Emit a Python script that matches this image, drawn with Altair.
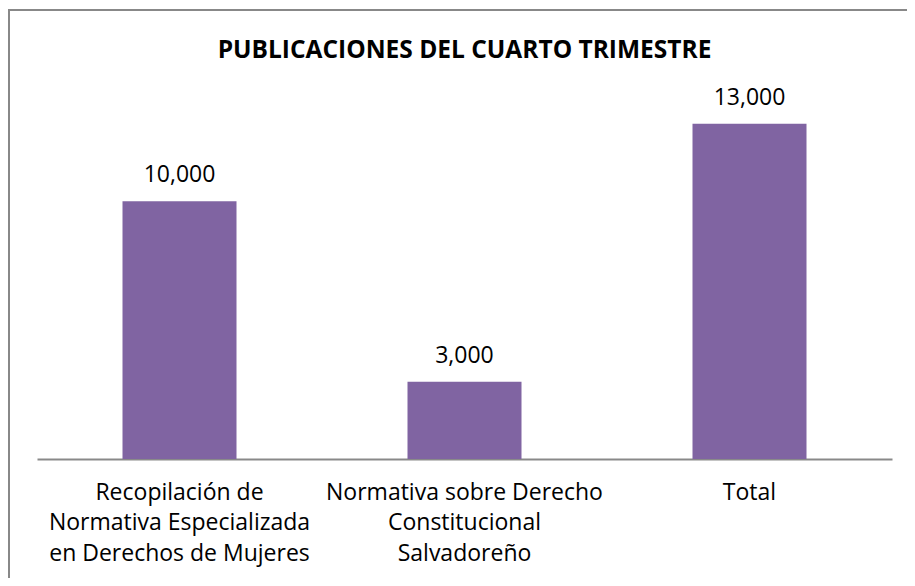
import altair as alt
import pandas as pd

categories = [
    "Recopilación de\nNormativa Especializada\nen Derechos de Mujeres",
    "Normativa sobre Derecho\nConstitucional\nSalvadoreño",
    "Total",
]
values = [10000, 3000, 13000]
title_text = "PUBLICACIONES DEL CUARTO TRIMESTRE"

df = pd.DataFrame({"cat": categories, "val": values})
one_df = pd.DataFrame({"t": [title_text]})

FONT = "Open Sans"

x_enc = alt.X(
    "cat:N",
    sort=None,
    title=None,
    scale=alt.Scale(paddingInner=0.6, paddingOuter=0.3),
    axis=alt.Axis(
        labelAngle=0,
        labelExpr="split(datum.label, '\\n')",
        labelFont=FONT,
        labelFontSize=23,
        labelLineHeight=30.5,
        labelColor="#000000",
        labelPadding=22,
        labelLimit=0,
        ticks=False,
        domainColor="#898989",
        domainWidth=2,
        labelBaseline="top",
    ),
)
y_enc = alt.Y(
    "val:Q",
    title=None,
    scale=alt.Scale(domain=[0, 14000]),
    axis=None,
)

bars = alt.Chart(df).mark_bar(color="#8064A2").encode(x=x_enc, y=y_enc)

labels = alt.Chart(df).mark_text(
    font=FONT, fontSize=23, color="#000000", dy=-19, baseline="alphabetic"
).encode(
    x=alt.X("cat:N", sort=None),
    y=alt.Y("val:Q"),
    text=alt.Text("val:Q", format=","),
)

frame = alt.Chart(one_df).mark_rect(
    fill=None, stroke="#888888", strokeWidth=2
).encode(
    x=alt.value(-28), x2=alt.value(1000), y=alt.value(-88), y2=alt.value(700)
)

title = alt.Chart(one_df).mark_text(
    font=FONT, fontSize=24.5, fontWeight="bold", color="#000000",
    baseline="alphabetic", align="center"
).encode(
    x=alt.value(427.5), y=alt.value(-40), text="t:N"
)

chart = alt.layer(frame, bars, labels, title).properties(
    width=855,
    height=361,
    padding={"left": 29, "top": 90, "right": 15, "bottom": 119},
    autosize=alt.AutoSizeParams(type="none"),
).configure_view(strokeWidth=0, stroke=None)

chart.save("out.html", embed_options={"renderer": "svg", "actions": False})
